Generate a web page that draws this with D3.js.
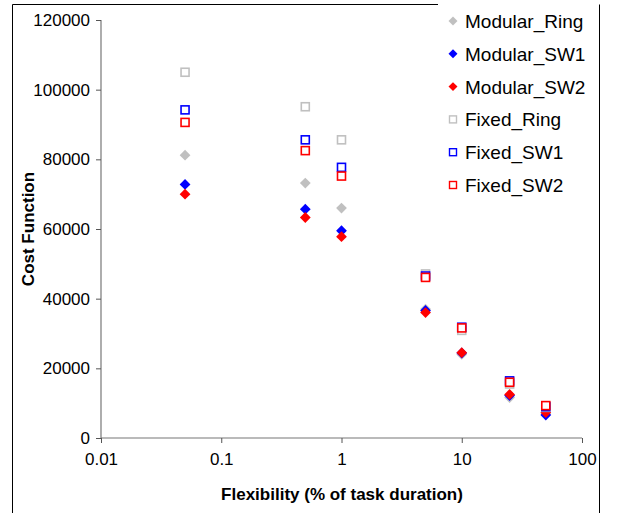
<!DOCTYPE html>
<html>
<head>
<meta charset="utf-8">
<script src="https://cdn.jsdelivr.net/npm/d3@7"></script>
<style>
  body { margin: 0; background: #fff; }
  text { font-family: Arial, 'Liberation Sans', sans-serif; fill: #000; }
</style>
</head>
<body>
<svg width="619" height="513"></svg>
<script>
// x values (flexibility, % of task duration)
var flexibility = [0.05, 0.5, 1, 5, 10, 25, 50];

// series values
var modularRing = [81200, 73200, 66000, 37000, 24000, 11600, 6900];
var modularSW1  = [72800, 65700, 59500, 36600, 24400, 12200, 6600];
var modularSW2  = [70000, 63300, 57800, 36000, 24500, 12500, 7300];
var fixedRing   = [105000, 95100, 85600, 47100, 30900, 15500, 8800];
var fixedSW1    = [94200, 85600, 77700, 46500, 31800, 16400, 9000];
var fixedSW2    = [90600, 82500, 75200, 46100, 31600, 16000, 9300];

var seriesNames = ['Modular_Ring', 'Modular_SW1', 'Modular_SW2', 'Fixed_Ring', 'Fixed_SW1', 'Fixed_SW2'];
var seriesValues = [modularRing, modularSW1, modularSW2, fixedRing, fixedSW1, fixedSW2];

var xTicks = [0.01, 0.1, 1, 10, 100];
var yTicks = [0, 20000, 40000, 60000, 80000, 100000, 120000];

var colors = ['#c0c0c0', '#0000ff', '#ff0000', '#c0c0c0', '#0000ff', '#ff0000'];
var shapes = ['diamond', 'diamond', 'diamond', 'square', 'square', 'square'];

var svg = d3.select('svg');

// outer frame (top edge hidden behind the legend on the right)
svg.append('path')
    .attr('d', 'M438,4.5 H12.5 V520 M599.5,4.5 V520')
    .attr('fill', 'none')
    .attr('stroke', '#000')
    .attr('stroke-width', 1);

var padding = {t: 20, l: 101, r: 582, b: 438};

var xScale = d3.scaleLog()
    .domain([0.01, 100])
    .range([padding.l, padding.r]);
var yScale = d3.scaleLinear()
    .domain([0, 120000])
    .range([padding.b, padding.t]);

// axes
var xAxisG = svg.append('g')
    .attr('transform', 'translate(0,' + padding.b + ')')
    .call(d3.axisBottom(xScale).tickValues(xTicks).tickSize(5).tickPadding(10)
        .tickFormat(function(d) { return String(d); }));
var yAxisG = svg.append('g')
    .attr('transform', 'translate(' + padding.l + ',0)')
    .call(d3.axisLeft(yScale).tickValues(yTicks).tickSize(5).tickPadding(6)
        .tickFormat(function(d) { return String(d); }));

[xAxisG, yAxisG].forEach(function(g) {
    g.select('.domain').attr('stroke', '#777').attr('stroke-width', 1.2);
    g.selectAll('.tick line').attr('stroke', '#555');
    g.selectAll('.tick text')
        .attr('fill', '#000')
        .style('font-size', '17px')
        .style('font-family', "Arial, 'Liberation Sans', sans-serif");
});
// remove outer tick ends from domain path
xAxisG.select('.domain').attr('d', 'M' + padding.l + ',0H' + padding.r);
yAxisG.select('.domain').attr('d', 'M0,' + padding.t + 'V' + padding.b);

// axis titles
svg.append('text')
    .attr('x', 342)
    .attr('y', 500)
    .attr('text-anchor', 'middle')
    .style('font-size', '17px')
    .style('font-weight', 'bold')
    .text('Flexibility (% of task duration)');

svg.append('text')
    .attr('transform', 'translate(34,229) rotate(-90)')
    .attr('text-anchor', 'middle')
    .style('font-size', '17px')
    .style('font-weight', 'bold')
    .text('Cost Function');

// markers
function drawMarker(g, shape, color) {
    if (shape === 'diamond') {
        g.append('path')
            .attr('d', d3.symbol().type(d3.symbolSquare).size(58)())
            .attr('transform', 'rotate(45)')
            .attr('fill', color);
    } else {
        g.append('rect')
            .attr('x', -4).attr('y', -4)
            .attr('width', 8).attr('height', 8)
            .attr('fill', '#fff')
            .attr('stroke', color)
            .attr('stroke-width', 1.6);
    }
}

var plotG = svg.append('g');
seriesValues.forEach(function(values, i) {
    var pts = plotG.selectAll('.s' + i)
        .data(values)
        .enter()
        .append('g')
        .attr('class', 's' + i)
        .attr('transform', function(d, j) {
            return 'translate(' + [xScale(flexibility[j]), yScale(d)] + ')';
        });
    pts.each(function() { drawMarker(d3.select(this), shapes[i], colors[i]); });
});

// legend
var legendG = svg.append('g').attr('transform', 'translate(453,21)');
seriesNames.forEach(function(name, i) {
    var item = legendG.append('g').attr('transform', 'translate(0,' + (i * 32.8) + ')');
    if (shapes[i] === 'diamond') {
        item.append('path')
            .attr('d', d3.symbol().type(d3.symbolSquare).size(40)())
            .attr('transform', 'rotate(45)')
            .attr('fill', colors[i]);
    } else {
        item.append('rect')
            .attr('x', -3.5).attr('y', -3.5)
            .attr('width', 7).attr('height', 7)
            .attr('fill', '#fff')
            .attr('stroke', colors[i])
            .attr('stroke-width', 1.4);
    }
    item.append('text')
        .attr('x', 12)
        .attr('y', 7)
        .style('font-size', '19px')
        .text(name);
});
</script>
</body>
</html>
